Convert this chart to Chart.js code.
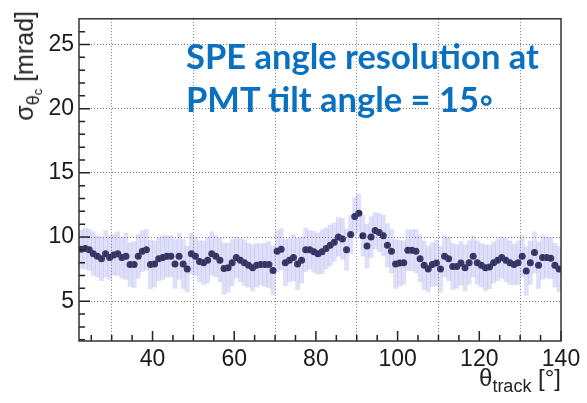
<!DOCTYPE html>
<html lang="en">
<head>
    <meta charset="UTF-8">
    <title>SPE angle resolution</title>
    <script src="https://cdn.jsdelivr.net/npm/chart.js"></script>
    <style>
        body { margin: 0; background: #fff; }
        .wrap { position: relative; width: 587px; height: 403px; }
        .note {
            position: absolute; left: 186px; top: 34px;
            font-family: Lato, "Open Sans", sans-serif; font-weight: bold;
            font-size: 34.5px; line-height: 43px; color: #0a70c0; white-space: nowrap;
        }
        .ytitle {
            position: absolute; left: 9px; top: 11px;
            transform-origin: top left; transform: rotate(-90deg) translateX(-100%);
            font-family: "Liberation Sans", Arial, sans-serif; font-size: 25px; color: #222;
            white-space: nowrap; line-height: 30px;
        }
        .xtitle {
            position: absolute; right: 26px; top: 364px;
            font-family: "Liberation Sans", Arial, sans-serif; font-size: 24px; color: #222;
            white-space: nowrap;
        }
        sub { font-size: 18px; vertical-align: -6px; }
    </style>
</head>
<body>
<div class="wrap">
    <canvas id="chart"></canvas>
    <div class="note">SPE angle resolution at<br>PMT tilt angle = 15◦</div>
    <div class="ytitle">σ<sub>θ<sub style="font-size:13px;vertical-align:-3px">c</sub></sub> [mrad]</div>
    <div class="xtitle">θ<sub>track</sub> [°]</div>
</div>
<script>
    // bin centres of theta_track [deg]
    const theta = [
        22.5, 23.5, 24.5, 25.5, 26.5, 27.5, 28.5, 29.5, 30.5, 31.5, 32.5, 33.5, 34.5, 35.5, 36.5, 37.5, 38.5, 39.5,
        40.5, 41.5, 42.5, 43.5, 44.5, 45.5, 46.5, 47.5, 48.5, 49.5, 50.5, 51.5, 52.5, 53.5, 54.5, 55.5, 56.5, 57.5,
        58.5, 59.5, 60.5, 61.5, 62.5, 63.5, 64.5, 65.5, 66.5, 67.5, 68.5, 69.5, 70.5, 71.5, 72.5, 73.5, 74.5, 75.5,
        76.5, 77.5, 78.5, 79.5, 80.5, 81.5, 82.5, 83.5, 84.5, 85.5, 86.5, 87.5, 88.5, 89.5, 90.5, 91.5, 92.5, 93.5,
        94.5, 95.5, 96.5, 97.5, 98.5, 99.5, 100.5, 101.5, 102.5, 103.5, 104.5, 105.5, 106.5, 107.5, 108.5, 109.5,
        110.5, 111.5, 112.5, 113.5, 114.5, 115.5, 116.5, 117.5, 118.5, 119.5, 120.5, 121.5, 122.5, 123.5, 124.5,
        125.5, 126.5, 127.5, 128.5, 129.5, 130.5, 131.5, 132.5, 133.5, 134.5, 135.5, 136.5, 137.5, 138.5, 139.5
    ];
    // sigma_theta_c [mrad]
    const sigma = [
        9.05, 9.1, 9.0, 8.7, 8.5, 8.3, 8.7, 8.4, 8.6, 8.7, 8.4, 8.5, 7.85, 7.85, 8.5, 8.9, 9.0, 7.85,
        7.9, 8.3, 8.4, 8.5, 8.5, 7.9, 8.5, 7.9, 7.5, 8.7, 8.5, 8.1, 8.0, 8.2, 8.7, 8.5, 8.2, 7.55,
        7.6, 8.0, 8.4, 8.2, 8.0, 7.8, 7.6, 7.8, 7.85, 7.85, 7.85, 7.4, 8.9, 9.05, 8.0, 8.2, 8.4, 7.9,
        8.2, 9.0, 9.0, 8.85, 8.7, 8.85, 9.1, 9.35, 9.6, 10.0, 9.85, 9.0, 10.2, 11.6, 11.85, 10.1, 9.3, 10.0,
        10.5, 10.35, 10.1, 9.35, 8.9, 7.9, 7.97, 8.0, 8.97, 8.97, 8.9, 8.3, 7.8, 7.5, 7.85, 7.97,
        7.5, 8.5, 8.3, 7.7, 7.7, 7.97, 7.6, 8.0, 8.5, 8.0, 7.8, 7.6, 7.67, 8.0, 8.2,
        8.4, 8.2, 8.0, 7.85, 8.0, 8.5, 7.35, 8.0, 8.8, 7.8, 8.4, 8.4, 8.35, 7.8, 7.5
    ];
    // error on sigma [mrad]
    const sigmaErr = [
        1.5, 1.6, 1.6, 1.7, 1.6, 1.7, 1.8, 1.7, 1.6, 1.7, 1.6, 1.8, 1.7, 1.8, 1.7, 1.6, 1.6, 1.9,
        1.8, 1.7, 1.7, 1.6, 1.6, 1.9, 1.8, 1.9, 1.8, 1.6, 1.5, 1.6, 1.7, 1.8, 1.7, 1.6, 1.7, 2.0,
        1.9, 1.8, 1.6, 1.7, 1.8, 1.7, 1.8, 1.7, 1.6, 1.7, 1.8, 1.9, 1.6, 1.6, 1.8, 1.7, 1.8, 2.0,
        1.8, 1.7, 1.5, 1.6, 1.6, 1.7, 1.6, 1.6, 1.5, 1.5, 1.6, 1.6, 1.5, 1.5, 1.5, 1.6, 1.7, 1.6,
        1.4, 1.5, 1.6, 1.7, 1.7, 1.9, 1.8, 1.7, 1.6, 1.6, 1.7, 1.8, 1.9, 1.8, 1.7, 1.8,
        1.8, 1.6, 1.7, 1.8, 1.7, 1.7, 1.8, 1.7, 1.6, 1.7, 1.7, 1.8, 1.7, 1.6, 1.6,
        1.6, 1.7, 1.7, 1.6, 1.7, 1.6, 1.9, 1.7, 1.6, 1.8, 1.7, 1.6, 1.6, 1.7, 1.8
    ];
    const xMajor = [40, 60, 80, 100, 120, 140];
    const yMajor = [5, 10, 15, 20, 25];
    const xMinor = [25, 30, 35, 45, 50, 55, 65, 70, 75, 85, 90, 95, 105, 110, 115, 125, 130, 135];
    const yMinor = [2, 3, 4, 6, 7, 8, 9, 11, 12, 13, 14, 16, 17, 18, 19, 21, 22, 23, 24, 26];

    // frame and inside ticks, ROOT style
    const framePlugin = {
        id: 'frame',
        afterDraw(chart) {
            const { ctx, chartArea: a, scales } = chart;
            ctx.save();
            ctx.strokeStyle = '#222';
            ctx.lineWidth = 1.5;
            ctx.beginPath();
            xMajor.concat(xMinor).forEach(v => {
                const px = scales.x.getPixelForValue(v);
                const len = xMajor.includes(v) ? 10 : 6;
                ctx.moveTo(px, a.bottom);
                ctx.lineTo(px, a.bottom - len);
            });
            yMajor.concat(yMinor).forEach(v => {
                const py = scales.y.getPixelForValue(v);
                const len = yMajor.includes(v) ? 11 : 6;
                ctx.moveTo(a.left, py);
                ctx.lineTo(a.left + len, py);
            });
            ctx.stroke();
            ctx.strokeStyle = '#333';
            ctx.strokeRect(a.left, a.top, a.right - a.left, a.bottom - a.top);
            ctx.restore();
        }
    };

    new Chart(document.getElementById('chart'), {
        data: {
            datasets: [{
                type: 'bar',
                data: theta.map((t, i) => ({ x: t, y: [sigma[i] - sigmaErr[i], sigma[i] + sigmaErr[i]] })),
                backgroundColor: 'rgba(135, 135, 228, 0.27)',
                borderWidth: 0,
                barPercentage: 1,
                categoryPercentage: 1
            }, {
                type: 'scatter',
                data: theta.map((t, i) => ({ x: t, y: sigma[i] })),
                pointRadius: 3.5,
                pointBackgroundColor: '#14142e',
                pointBorderWidth: 0
            }]
        },
        options: {
            responsive: true,
            maintainAspectRatio: false,
            animation: false,
            layout: { padding: { top: 9, right: 26, left: 0, bottom: 0 } },
            plugins: { legend: { display: false }, tooltip: { enabled: false } },
            scales: {
                x: {
                    type: 'linear', min: 22, max: 140, offset: false,
                    afterBuildTicks: s => { s.ticks = xMajor.map(v => ({ value: v })); },
                    afterFit: s => { s.height = 62; },
                    grid: { color: '#777', lineWidth: 1, drawTicks: false },
                    border: { display: false, dash: [1, 2] },
                    ticks: { color: '#1a1a1a', padding: 5, maxRotation: 0, font: { family: 'Liberation Sans', size: 23 } }
                },
                y: {
                    type: 'linear', min: 1.9, max: 27,
                    afterBuildTicks: s => { s.ticks = yMajor.map(v => ({ value: v })); },
                    afterFit: s => { s.width = 79; },
                    grid: { color: '#777', lineWidth: 1, drawTicks: false },
                    border: { display: false, dash: [1, 2] },
                    ticks: { color: '#1a1a1a', padding: 5, font: { family: 'Liberation Sans', size: 23 } }
                }
            }
        },
        plugins: [framePlugin]
    });
</script>
</body>
</html>
